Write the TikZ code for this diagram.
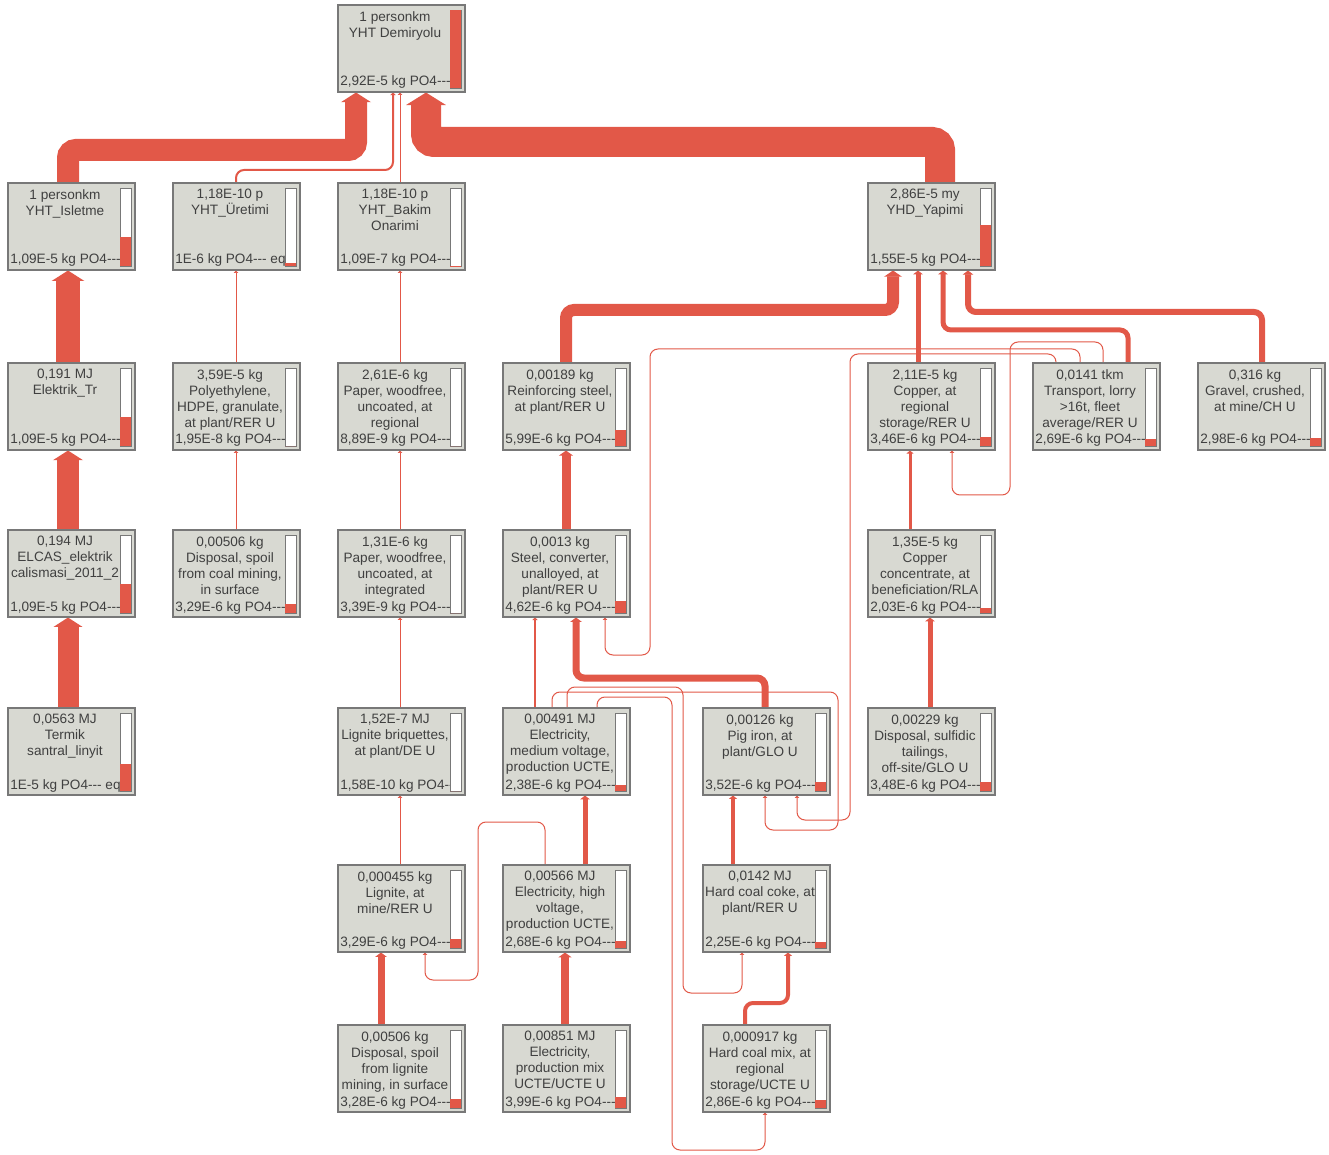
\documentclass[tikz,border=0pt]{standalone}
\usepackage{fontspec}
\setmainfont{Liberation Sans}[Ligatures=TeXOff]
\usetikzlibrary{arrows.meta,backgrounds}
\definecolor{boxgrey}{RGB}{216,217,210}
\definecolor{linkred}{RGB}{226,88,72}
\definecolor{inkgrey}{RGB}{64,64,64}
\definecolor{framegrey}{RGB}{120,120,120}

\newcommand{\proc}[6]{%
  \node[procbox] (#1) at (#2+63.5,#3+43.5) {};
  \node[proctext] (#1-t) at (#2+57,#3+6) {#4};
  \node[procval] (#1-v) at (#2+2,#3+81) {#5};
  \draw[barframe] (#2+112,#3+5) rectangle (#2+123,#3+83);
  \fill[linkred] (#2+112,#3+83) rectangle (#2+123,#3+83-78*#6);
}

\begin{document}
\begin{tikzpicture}[x=0.75pt,y=-0.75pt,
  procbox/.style={draw=framegrey,fill=boxgrey,line width=0.8pt,minimum width=95.25pt,minimum height=65.25pt,inner sep=0pt},
  proctext/.style={anchor=north,align=center,inner sep=0pt,text=inkgrey,font=\fontsize{10.2}{12}\selectfont},
  procval/.style={anchor=base west,inner sep=0pt,text=inkgrey,font=\fontsize{10.2}{12}\selectfont},
  barframe/.style={draw=framegrey,fill=white,line width=0.6pt},
  flow/.style={draw=linkred,line width=#1*0.75pt,rounded corners=6pt,-{Triangle[length=1.5pt 0.35,width=2.5pt 1.2]}}]
\useasboundingbox (0,0) rectangle (1329,1155);

\proc{demiryolu}{338}{5}{1 personkm\\YHT Demiryolu}{2,92E-5 kg PO4---}{1}

\proc{isletme}{8}{183}{1 personkm\\YHT\_Isletme}{1,09E-5 kg PO4---}{0.373}
\proc{uretimi}{173}{183}{1,18E-10 p\\YHT\_Üretimi}{1E-6 kg PO4--- eq}{0.034}
\proc{bakim}{338}{183}{1,18E-10 p\\YHT\_Bakim\\Onarimi}{1,09E-7 kg PO4---}{0.004}
\proc{yapimi}{868}{183}{2,86E-5 my\\YHD\_Yapimi}{1,55E-5 kg PO4---}{0.531}

\proc{elektrik}{8}{363}{0,191 MJ\\Elektrik\_Tr}{1,09E-5 kg PO4---}{0.373}
\proc{hdpe}{173}{363}{3,59E-5 kg\\Polyethylene,\\HDPE, granulate,\\at plant/RER U}{1,95E-8 kg PO4---}{0}
\proc{paper}{338}{363}{2,61E-6 kg\\Paper, woodfree,\\uncoated, at\\regional}{8,89E-9 kg PO4---}{0}
\proc{rebar}{503}{363}{0,00189 kg\\Reinforcing steel,\\at plant/RER U}{5,99E-6 kg PO4---}{0.205}
\proc{copper}{868}{363}{2,11E-5 kg\\Copper, at\\regional\\storage/RER U}{3,46E-6 kg PO4---}{0.118}
\proc{lorry}{1033}{363}{0,0141 tkm\\Transport, lorry\\>16t, fleet\\average/RER U}{2,69E-6 kg PO4---}{0.092}
\proc{gravel}{1198}{363}{0,316 kg\\Gravel, crushed,\\at mine/CH U}{2,98E-6 kg PO4---}{0.102}

\proc{elcas}{8}{530}{0,194 MJ\\ELCAS\_elektrik\\calismasi\_2011\_2}{1,09E-5 kg PO4---}{0.373}
\proc{spoil}{173}{530}{0,00506 kg\\Disposal, spoil\\from coal mining,\\in surface}{3,29E-6 kg PO4---}{0.113}
\proc{paperint}{338}{530}{1,31E-6 kg\\Paper, woodfree,\\uncoated, at\\integrated}{3,39E-9 kg PO4---}{0}
\proc{steel}{503}{530}{0,0013 kg\\Steel, converter,\\unalloyed, at\\plant/RER U}{4,62E-6 kg PO4---}{0.158}
\proc{concentrate}{868}{530}{1,35E-5 kg\\Copper\\concentrate, at\\beneficiation/RLA}{2,03E-6 kg PO4---}{0.07}

\proc{termik}{8}{708}{0,0563 MJ\\Termik\\santral\_linyit}{1E-5 kg PO4--- eq}{0.342}
\proc{briquettes}{338}{708}{1,52E-7 MJ\\Lignite briquettes,\\at plant/DE U}{1,58E-10 kg PO4---}{0}
\proc{elecmv}{503}{708}{0,00491 MJ\\Electricity,\\medium voltage,\\production UCTE,}{2,38E-6 kg PO4---}{0.082}
\proc{pigiron}{703}{708}{0,00126 kg\\Pig iron, at\\plant/GLO U}{3,52E-6 kg PO4---}{0.121}
\proc{tailings}{868}{708}{0,00229 kg\\Disposal, sulfidic\\tailings,\\off-site/GLO U}{3,48E-6 kg PO4---}{0.119}

\proc{lignite}{338}{865}{0,000455 kg\\Lignite, at\\mine/RER U}{3,29E-6 kg PO4---}{0.113}
\proc{elechv}{503}{865}{0,00566 MJ\\Electricity, high\\voltage,\\production UCTE,}{2,68E-6 kg PO4---}{0.092}
\proc{coke}{703}{865}{0,0142 MJ\\Hard coal coke, at\\plant/RER U}{2,25E-6 kg PO4---}{0.077}

\proc{lignspoil}{338}{1025}{0,00506 kg\\Disposal, spoil\\from lignite\\mining, in surface}{3,28E-6 kg PO4---}{0.112}
\proc{elecmix}{503}{1025}{0,00851 MJ\\Electricity,\\production mix\\UCTE/UCTE U}{3,99E-6 kg PO4---}{0.137}
\proc{coalmix}{703}{1025}{0,000917 kg\\Hard coal mix, at\\regional\\storage/UCTE U}{2,86E-6 kg PO4---}{0.098}

\begin{pgfonlayer}{background}
\fill[white] (0,0) rectangle (1329,1155);
\draw[flow=22] (isletme.north -| 68,0) |- (356,150) -- (demiryolu.south -| 356,0);
\draw[flow=2] (uretimi.north -| 236,0) |- (393,170) -- (demiryolu.south -| 393,0);
\draw[flow=1] (bakim.north -| 400,0) -- (demiryolu.south -| 400,0);
\draw[flow=30] (yapimi.north -| 940,0) |- (426,142) -- (demiryolu.south -| 426,0);
\draw[flow=24] (elektrik.north -| 68,0) -- (isletme.south -| 68,0);
\draw[flow=22] (elcas.north -| 68,0) -- (elektrik.south -| 68,0);
\draw[flow=21] (termik.north -| 68,0) -- (elcas.south -| 68,0);
\draw[flow=1] (hdpe.north -| 236,0) -- (uretimi.south -| 236,0);
\draw[flow=1] (spoil.north -| 236,0) -- (hdpe.south -| 236,0);
\draw[flow=1] (paper.north -| 400,0) -- (bakim.south -| 400,0);
\draw[flow=1] (paperint.north -| 400,0) -- (paper.south -| 400,0);
\draw[flow=1] (briquettes.north -| 400,0) -- (paperint.south -| 400,0);
\draw[flow=1] (lignite.north -| 400,0) -- (briquettes.south -| 400,0);
\draw[flow=12] (rebar.north -| 566,0) |- (893,310) -- (yapimi.south -| 893,0);
\draw[flow=5] (copper.north -| 918,0) -- (yapimi.south -| 918,0);
\draw[flow=5] (lorry.north -| 1128,0) |- (943,330) -- (yapimi.south -| 943,0);
\draw[flow=6] (gravel.north -| 1262,0) |- (968,312) -- (yapimi.south -| 968,0);
\draw[flow=9] (steel.north -| 566,0) -- (rebar.south -| 566,0);
\draw[flow=7] (pigiron.north -| 765,0) |- (576,678) -- (steel.south -| 576,0);
\draw[flow=1] (lorry.north -| 1080,0) |- (650,349) |- (605,655) -- (steel.south -| 605,0);
\draw[flow=1] (lorry.north -| 1103,0) |- (1010,342) |- (952,495) -- (copper.south -| 952,0);
\draw[flow=1] (lorry.north -| 1056,0) |- (850,354) |- (797,820) -- (pigiron.south -| 797,0);
\draw[flow=3] (concentrate.north -| 910,0) -- (copper.south -| 910,0);
\draw[flow=5] (tailings.north -| 930,0) -- (concentrate.south -| 930,0);
\draw[flow=5] (elechv.north -| 585,0) -- (elecmv.south -| 585,0);
\draw[flow=8] (elecmix.north -| 565,0) -- (elechv.south -| 565,0);
\draw[flow=7] (lignspoil.north -| 381,0) -- (lignite.south -| 381,0);
\draw[flow=1] (elechv.north -| 545,0) |- (478,822) |- (425,980) -- (lignite.south -| 425,0);
\draw[flow=4] (coke.north -| 733,0) -- (pigiron.south -| 733,0);
\draw[flow=4] (coalmix.north -| 745,0) |- (788,1003) -- (coke.south -| 788,0);
\draw[flow=1.5] (elecmv.north -| 535,0) -- (steel.south -| 535,0);
\draw[flow=1] (elecmv.north -| 552,0) |- (838,692) |- (765,830) -- (pigiron.south -| 765,0);
\draw[flow=1] (elecmv.north -| 567,0) |- (683,687) |- (742,993) -- (coke.south -| 742,0);
\draw[flow=1] (elecmv.north -| 597,0) |- (672,697) |- (765,1150) -- (coalmix.south -| 765,0);
\end{pgfonlayer}
\end{tikzpicture}
\end{document}
